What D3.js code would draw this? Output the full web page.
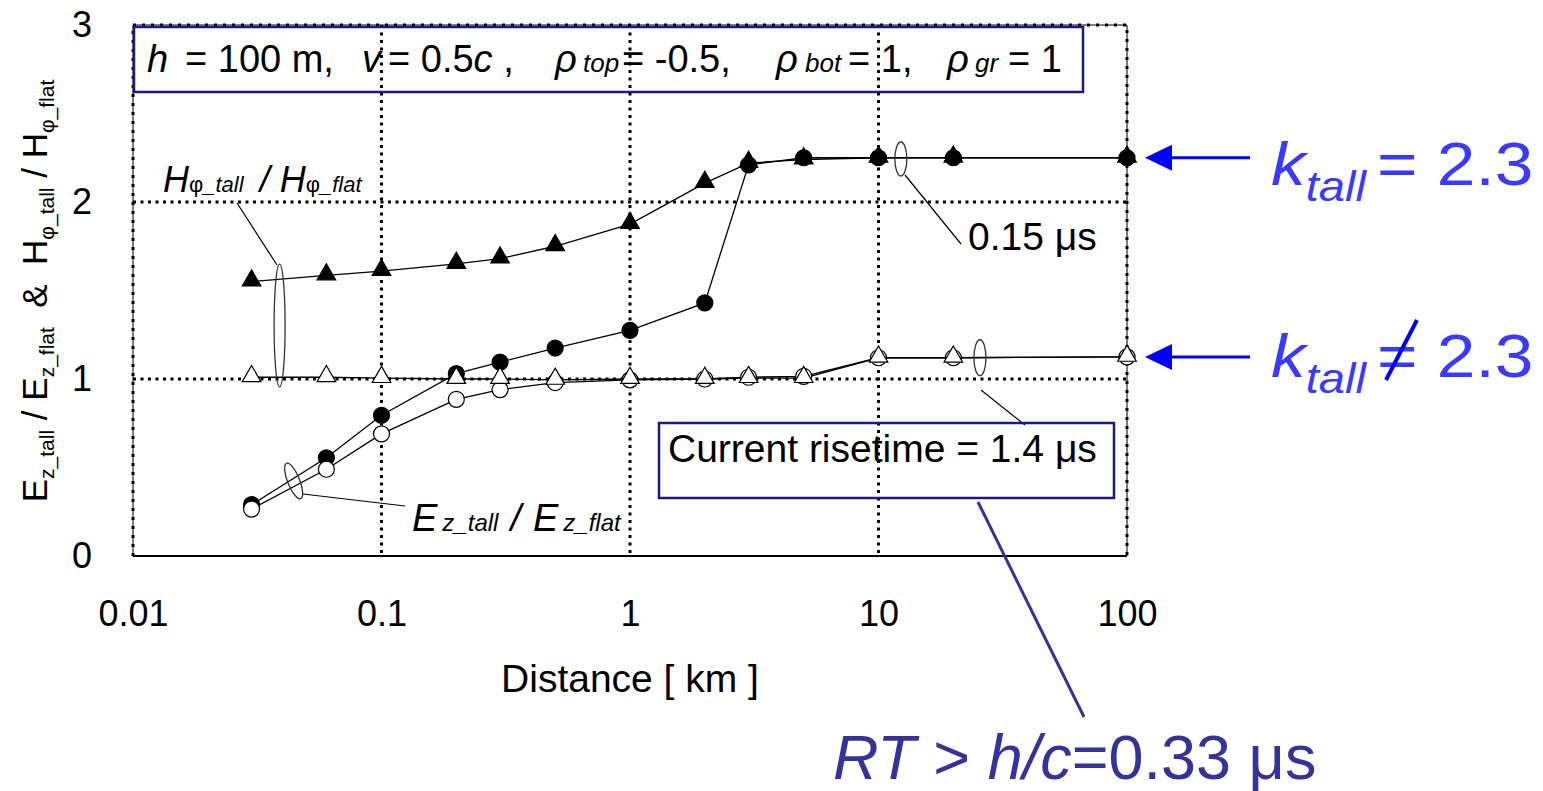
<!DOCTYPE html>
<html>
<head>
<meta charset="utf-8">
<script src="https://cdn.jsdelivr.net/npm/d3@7"></script>
<style>
  body { margin: 0; background: #fff; }
  text { font-family: "Liberation Sans", Arial, sans-serif; }
</style>
</head>
<body>
<svg></svg>
<script>
// distances [km] and ratio values
const distance = [0.03, 0.06, 0.1, 0.2, 0.3, 0.5, 1, 2, 3, 5, 10, 20, 100];
const hFast = [1.55, 1.585, 1.61, 1.65, 1.68, 1.75, 1.875, 2.107, 2.22, 2.24, 2.25, 2.25, 2.25];
const eFast = [0.29, 0.555, 0.795, 1.03, 1.095, 1.175, 1.275, 1.43, 2.21, 2.25, 2.25, 2.25, 2.25];
const hSlow = [1.01, 1.01, 1.005, 1.0, 1.0, 0.995, 1.0, 1.0, 1.005, 1.005, 1.12, 1.12, 1.125];
const eSlow = [0.265, 0.49, 0.69, 0.885, 0.94, 0.98, 0.995, 1.0, 1.01, 1.015, 1.12, 1.12, 1.125];
const xTicks = [0.01, 0.1, 1, 10, 100];
const xTickLabels = ['0.01', '0.1', '1', '10', '100'];
const yTicks = [0, 1, 2, 3];
const xGrid = [0.1, 1, 10];
const yGrid = [1, 2];

const W = 1543, H = 791;
const svg = d3.select('svg').attr('width', W).attr('height', H);

const x = d3.scaleLog().domain([0.01, 100]).range([133, 1127]);
const y = d3.scaleLinear().domain([0, 3]).range([556, 25]);

// grid
svg.selectAll('.gx').data(xGrid).enter().append('line')
  .attr('x1', d => x(d)).attr('x2', d => x(d))
  .attr('y1', y(3)).attr('y2', y(0))
  .attr('stroke', '#000').attr('stroke-width', 3).attr('stroke-dasharray', '3,4.5');
svg.selectAll('.gy').data(yGrid).enter().append('line')
  .attr('x1', x(0.01)).attr('x2', x(100))
  .attr('y1', d => y(d)).attr('y2', d => y(d))
  .attr('stroke', '#000').attr('stroke-width', 3).attr('stroke-dasharray', '3,4.5');

// frame: thin solid line with dotted overlay, solid bottom
const framePath = `M${x(0.01)},${y(0)}V${y(3)}H${x(100)}V${y(0)}`;
svg.append('path').attr('d', framePath)
  .attr('fill', 'none').attr('stroke', '#000').attr('stroke-width', 1);
svg.append('path').attr('d', framePath)
  .attr('fill', 'none').attr('stroke', '#000').attr('stroke-width', 3)
  .attr('stroke-dasharray', '3,6');
svg.append('line').attr('x1', x(0.01)).attr('x2', x(100)).attr('y1', y(0)).attr('y2', y(0))
  .attr('stroke', '#000').attr('stroke-width', 2);

// axes
const xAxis = svg.append('g').attr('transform', `translate(0,${y(0)})`)
  .call(d3.axisBottom(x).tickValues(xTicks).tickSize(0).tickPadding(44)
    .tickFormat((d, i) => xTickLabels[i]));
const yAxis = svg.append('g').attr('transform', `translate(${x(0.01)},0)`)
  .call(d3.axisLeft(y).tickValues(yTicks).tickSize(0).tickPadding(41).tickFormat(d3.format('d')));
[xAxis, yAxis].forEach(g => {
  g.select('.domain').remove();
  g.selectAll('text').attr('font-size', 36).attr('fill', '#000')
    .style('font-family', '"Liberation Sans", Arial, sans-serif');
});

svg.append('text').attr('x', 630).attr('y', 692).attr('text-anchor', 'middle')
  .attr('font-size', 39).text('Distance [ km ]');

// y axis title
const yt = svg.append('text')
  .attr('transform', 'translate(47,291) rotate(-90)')
  .attr('text-anchor', 'middle').attr('font-size', 35)
  .attr('style', 'white-space: pre');
const ytParts = [
  ['E', 0], ['z_tall', 1], [' / E', -1], ['z_flat', 1], ['  &  H', -1],
  ['φ_tall', 1], [' / H', -1], ['φ_flat', 1]
];
ytParts.forEach(p => {
  const t = yt.append('tspan').text(p[0]);
  if (p[1] === 1) t.attr('font-size', 21).attr('dy', 7);
  if (p[1] === -1) t.attr('dy', -7);
});

// series
const line = d3.line().x(d => x(d[0])).y(d => y(d[1]));
const series = [hFast, eFast, eSlow, hSlow];
series.forEach(s => {
  svg.append('path').attr('d', line(distance.map((d, i) => [d, s[i]])))
    .attr('fill', 'none').attr('stroke', '#000').attr('stroke-width', 1.3);
});

const tri = d3.symbol().type(d3.symbolTriangle).size(150);
function triangles(vals, fill) {
  svg.append('g').selectAll('path').data(distance).enter().append('path')
    .attr('d', tri)
    .attr('transform', (d, i) => `translate(${x(d)},${y(vals[i]) - 1})`)
    .attr('fill', fill).attr('stroke', '#000').attr('stroke-width', 1.2);
}
function circles(vals, fill) {
  svg.append('g').selectAll('circle').data(distance).enter().append('circle')
    .attr('cx', d => x(d)).attr('cy', (d, i) => y(vals[i])).attr('r', 8)
    .attr('fill', fill).attr('stroke', '#000').attr('stroke-width', 1.2);
}
triangles(hFast, '#000');
circles(eFast, '#000');
circles(eSlow, '#fff');
triangles(hSlow, '#fff');

// ellipses and leaders
function ellipse(cx, cy, rx, ry, rot) {
  svg.append('ellipse').attr('cx', 0).attr('cy', 0).attr('rx', rx).attr('ry', ry)
    .attr('transform', `translate(${cx},${cy}) rotate(${rot})`)
    .attr('fill', 'none').attr('stroke', '#333').attr('stroke-width', 1.3);
}
function leader(x1, y1, x2, y2, color, w) {
  svg.append('line').attr('x1', x1).attr('y1', y1).attr('x2', x2).attr('y2', y2)
    .attr('stroke', color).attr('stroke-width', w);
}
ellipse(x(0.0389), y(1.302), 5.5, 61.5, 0);
leader(237, 203, 277, 265, '#000', 1.2);
ellipse(x(0.0443), y(0.424), 6, 19, -22);
leader(303, 494, 405, 506, '#000', 1.2);
ellipse(x(12.3), y(2.243), 6, 17, 0);
leader(905, 175, 961, 244, '#000', 1.2);
ellipse(x(25.6), y(1.12), 6, 18, 0);
leader(981, 390, 1025, 425, '#000', 1.2);

// labels
const hl = svg.append('text').attr('x', 163).attr('y', 192).attr('font-size', 36).attr('font-style', 'italic');
hl.append('tspan').text('H');
hl.append('tspan').text('φ').attr('font-size', 22).attr('font-style', 'normal');
hl.append('tspan').text('_tall').attr('font-size', 22);
hl.append('tspan').text(' / H').attr('dx', 6);
hl.append('tspan').text('φ').attr('font-size', 22).attr('font-style', 'normal');
hl.append('tspan').text('_flat').attr('font-size', 22);

const el = svg.append('text').attr('x', 412).attr('y', 531).attr('font-size', 38).attr('font-style', 'italic');
el.append('tspan').text('E');
el.append('tspan').text('z_tall').attr('font-size', 24).attr('dx', 5);
el.append('tspan').text('/').attr('dx', 12);
el.append('tspan').text('E').attr('dx', 12);
el.append('tspan').text('z_flat').attr('font-size', 24).attr('dx', 5);

svg.append('text').attr('x', 968).attr('y', 250).attr('font-size', 39).text('0.15 μs');

// parameter box
svg.append('rect').attr('x', 134).attr('y', 27).attr('width', 949).attr('height', 65)
  .attr('fill', 'none').attr('stroke', '#1a1a80').attr('stroke-width', 2.5);
const pt = svg.append('text').attr('y', 72).attr('font-size', 38);
const paramParts = [
  [147, 'h', 'italic', 38], [185, '= 100 m,', 'normal', 38],
  [362, 'v', 'italic', 38], [388, '= 0.5', 'normal', 38], [null, 'c', 'italic', 38], [null, ' ,', 'normal', 38],
  [555, 'ρ', 'italic', 38], [583, 'top', 'italic', 26], [622, '= -0.5,', 'normal', 38],
  [776, 'ρ', 'italic', 38], [805, 'bot', 'italic', 26], [848, '= 1,', 'normal', 38],
  [947, 'ρ', 'italic', 38], [975, 'gr', 'italic', 26], [1008, '= 1', 'normal', 38]
];
pt.attr('style', 'white-space: pre');
paramParts.forEach(p => {
  const t = pt.append('tspan').attr('font-style', p[2]).attr('font-size', p[3]).text(p[1]);
  if (p[0] !== null) t.attr('x', p[0]);
});

// current risetime box
svg.append('rect').attr('x', 659).attr('y', 423).attr('width', 455).attr('height', 75)
  .attr('fill', 'none').attr('stroke', '#1a1a80').attr('stroke-width', 2.5);
svg.append('text').attr('x', 668).attr('y', 462).attr('font-size', 39).text('Current risetime = 1.4 μs');
leader(978, 502, 1084, 717, '#333399', 3);

const rt = svg.append('text').attr('x', 833).attr('y', 779).attr('font-size', 63).attr('fill', '#333399');
rt.append('tspan').text('RT').attr('font-style', 'italic');
rt.append('tspan').text(' > ');
rt.append('tspan').text('h/c').attr('font-style', 'italic');
rt.append('tspan').text('=0.33 μs');

// k_tall arrows
const kVals = [2.25, 1.125];
const kText = ['= 2.3', '= 2.3'];
const kBase = [27, 20];
kVals.forEach((v, i) => {
  const yy = y(v);
  svg.append('line').attr('x1', 1170).attr('x2', 1250).attr('y1', yy).attr('y2', yy)
    .attr('stroke', '#0000ff').attr('stroke-width', 3);
  svg.append('path').attr('d', `M1145,${yy}L1172,${yy - 13}L1172,${yy + 13}Z`).attr('fill', '#0000ff');
  const t = svg.append('text').attr('transform', `translate(1271,${yy + kBase[i]}) scale(1.12,1)`)
    .attr('font-size', 62).attr('fill', '#3a3aff');
  t.append('tspan').text('k').attr('font-style', 'italic');
  t.append('tspan').text('tall').attr('font-style', 'italic').attr('font-size', 42).attr('dy', 16);
  t.append('tspan').text(kText[i]).attr('dy', -16).attr('dx', 10);
});
// slash for "not equal"
leader(1386, 380, 1417, 320, '#0000ee', 4);
</script>
</body>
</html>
